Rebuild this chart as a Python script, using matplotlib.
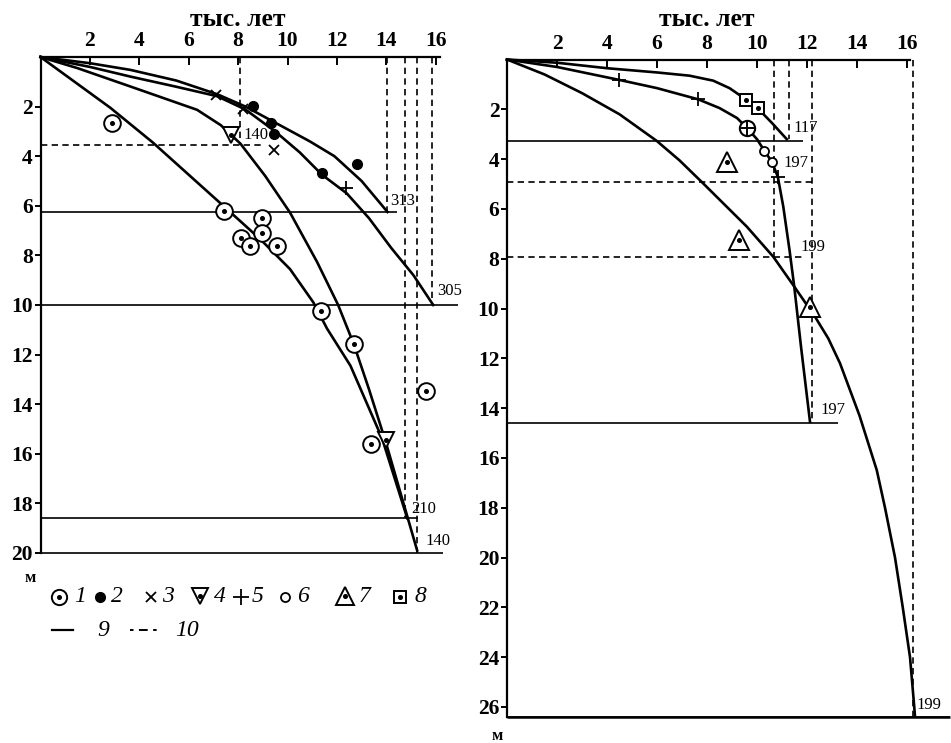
import matplotlib
matplotlib.use('Agg')
import matplotlib.pyplot as plt

plt.rcParams['font.family'] = ['Liberation Serif', 'DejaVu Serif']

W, H = 951, 743

# ---------------- data ----------------
x_ticks = [2, 4, 6, 8, 10, 12, 14, 16]
left_y_ticks = [2, 4, 6, 8, 10, 12, 14, 16, 18, 20]
right_y_ticks = [2, 4, 6, 8, 10, 12, 14, 16, 18, 20, 22, 24, 26]

# left panel curves (thousand years, depth m)
L_c313_t = [0, 2.0, 3.64, 5.5, 7.15, 8.3, 9.6, 10.9, 11.9, 13.0, 14.05]
L_c313_h = [0, 0.25, 0.52, 0.95, 1.5, 2.0, 2.7, 3.4, 4.0, 5.0, 6.25]
L_c305_t = [0, 2.0, 3.64, 5.5, 7.15, 8.3, 9.5, 10.5, 11.4, 12.4, 13.3, 14.2, 15.1, 15.9]
L_c305_h = [0, 0.4, 0.79, 1.2, 1.58, 2.12, 3.0, 3.85, 4.75, 5.5, 6.5, 7.7, 8.8, 10.0]
L_c140_t = [0, 1.5, 3.64, 6.34, 7.3, 8.1, 9.1, 10.1, 11.2, 12.05, 12.68, 13.3, 13.97, 15.25]
L_c140_h = [0, 0.45, 1.19, 2.13, 2.75, 3.5, 4.8, 6.27, 8.27, 10.0, 11.57, 13.4, 15.5, 19.9]
L_c210_t = [0, 2.83, 4.55, 7.4, 8.9, 10.1, 11.05, 11.6, 12.55, 13.83, 14.85]
L_c210_h = [0, 2.05, 3.45, 6.0, 7.35, 8.55, 9.9, 10.95, 12.45, 15.38, 18.6]

# left panel points
L_p1_t = [2.9, 7.42, 8.97, 8.97, 8.12, 8.48, 9.58, 11.36, 12.68, 15.59, 13.39]
L_p1_h = [2.65, 6.21, 6.48, 7.08, 7.28, 7.64, 7.64, 10.25, 11.57, 13.48, 15.61]
L_p2_t = [8.6, 9.35, 9.47, 11.4, 12.8]
L_p2_h = [1.97, 2.65, 3.09, 4.67, 4.3]
L_p3_t = [7.1, 8.2, 9.47]
L_p3_h = [1.53, 2.1, 3.73]
L_p4_t = [7.7, 13.97]
L_p4_h = [3.13, 15.45]
L_p5_t = [12.35]
L_p5_h = [5.27]

# left panel reference lines
L_hsolid_h = [6.25, 10.0, 18.6, 20.0]
L_hsolid_end = [14.42, 16.9, 15.3, 16.3]
L_hdash_h = [3.55]
L_hdash_end = [9.0]
L_vdash_t = [8.08, 14.02, 14.76, 15.26, 15.84]
L_vdash_end = [3.55, 6.25, 18.6, 20.0, 10.0]
L_lab_text = ['140', '313', '305', '210', '140']
L_lab_t = [8.2, 14.15, 16.04, 15.03, 15.57]
L_lab_h = [3.13, 5.82, 9.44, 18.23, 19.5]

# right panel curves
R_c117_t = [0, 2.0, 4.0, 6.0, 7.3, 8.25, 8.9, 9.55, 10.03, 10.6, 11.19]
R_c117_h = [0, 0.13, 0.35, 0.52, 0.65, 0.85, 1.15, 1.6, 1.96, 2.55, 3.2]
R_c197_t = [0, 2.0, 4.49, 6.0, 7.65, 8.5, 9.2, 9.59, 10.0, 10.29, 10.59, 10.83, 11.05, 11.3, 11.49, 11.76, 12.12]
R_c197_h = [0, 0.3, 0.82, 1.15, 1.6, 1.95, 2.35, 2.74, 3.2, 3.66, 4.1, 4.7, 5.9, 7.65, 9.12, 11.53, 14.55]
R_c199_t = [0, 1.5, 3.0, 4.5, 5.99, 6.9, 7.79, 9.59, 10.65, 11.49, 12.32, 12.85, 13.32,
            14.1, 14.79, 15.12, 15.52, 15.83, 16.12, 16.29, 16.32]
R_c199_h = [0, 0.6, 1.35, 2.2, 3.27, 4.05, 4.92, 6.71, 7.92, 9.12, 10.33, 11.2, 12.2,
            14.3, 16.49, 18.0, 20.0, 22.0, 24.0, 26.0, 26.39]

# right panel points
R_p5_t = [4.49, 7.65, 10.83]
R_p5_h = [0.82, 1.6, 4.7]
R_p6_t = [10.29, 10.59]
R_p6_h = [3.66, 4.1]
R_p56_t = [9.59]          # circle with cross (6 + 5)
R_p56_h = [2.74]
R_p7_t = [8.79, 9.28, 12.12]
R_p7_h = [4.1, 7.25, 9.93]
R_p8_t = [9.55, 10.03]
R_p8_h = [1.63, 1.96]

# right panel reference lines
R_hsolid_h = [3.27, 14.6, 26.4]
R_hsolid_end = [11.85, 13.25, 17.7]
R_hdash_h = [4.92, 7.93]
R_hdash_end = [12.2, 11.9]
R_vdash_t = [10.69, 11.29, 12.19, 16.25]
R_vdash_end = [7.93, 3.2, 14.6, 26.4]
R_lab_text = ['117', '197', '199', '197', '199']
R_lab_t = [11.44, 11.04, 11.72, 12.52, 16.39]
R_lab_h = [2.76, 4.17, 7.52, 14.08, 25.92]

legend_nums = ['1', '2', '3', '4', '5', '6', '7', '8']

# ---------------- figure ----------------
fig = plt.figure(figsize=(W / 100, H / 100), dpi=100)


def make_axes(x0, y0, sx, sy, xmax, ymax):
    left = x0 / W
    width = xmax * sx / W
    bottom_px = y0 + ymax * sy
    ax = fig.add_axes([left, 1 - bottom_px / H, width, ymax * sy / H])
    ax.set_xlim(0, xmax)
    ax.set_ylim(ymax, 0)
    ax.patch.set_alpha(0)
    return ax


DASH = (0, (3.8, 2.6))
CURVE_LW = 1.9
REF_LW = 1.2


def style_axes(ax, ymax_spine, yticks, top_end, title_off):
    for s in ['right', 'bottom']:
        ax.spines[s].set_visible(False)
    ax.spines['left'].set_bounds(0, ymax_spine)
    ax.spines['top'].set_bounds(0, top_end)
    ax.spines['left'].set_linewidth(1.6)
    ax.spines['top'].set_linewidth(1.6)
    ax.xaxis.tick_top()
    ax.set_xticks(x_ticks)
    ax.set_xticklabels([str(v) for v in x_ticks])
    ax.set_yticks(yticks)
    ax.set_yticklabels([str(v) for v in yticks])
    ax.tick_params(axis='x', direction='in', length=6, width=1.4, pad=4,
                   labelsize=15.5)
    ax.tick_params(axis='y', direction='out', length=4, width=1.4, pad=1.5,
                   labelsize=15.5)
    for lab in ax.get_xticklabels() + ax.get_yticklabels():
        lab.set_fontweight('bold')
    ax.annotate('тыс. лет', xy=(8, 1), xycoords=('data', 'axes fraction'),
                xytext=(0, title_off), textcoords='offset pixels', ha='center',
                va='center', fontsize=18.5, fontweight='bold')


def draw_refs(ax, hs_h, hs_end, hd_h, hd_end, vd_t, vd_end):
    ax.hlines(hs_h, 0, hs_end, colors='black', lw=REF_LW, clip_on=False, zorder=2)
    ax.hlines(hd_h, 0, hd_end, colors='black', lw=REF_LW, linestyles=DASH,
              clip_on=False, zorder=2)
    ax.vlines(vd_t, 0, vd_end, colors='black', lw=REF_LW, linestyles=DASH,
              clip_on=False, zorder=2)


def dotted_marker(ax, t, h, marker, ms, mew=1.4):
    ax.plot(t, h, linestyle='none', marker=marker, ms=ms, mfc='white',
            mec='black', mew=mew, zorder=5, clip_on=False)
    ax.plot(t, h, linestyle='none', marker='o', ms=2.6, color='black',
            zorder=6, clip_on=False)


# ---------- left panel ----------
axL = make_axes(40.5, 57, 24.7, 24.8, 17.2, 20.4)
style_axes(axL, 20, left_y_ticks, 16.17, 37)
draw_refs(axL, L_hsolid_h, L_hsolid_end, L_hdash_h, L_hdash_end,
          L_vdash_t, L_vdash_end)
for t, h in [(L_c313_t, L_c313_h), (L_c305_t, L_c305_h),
             (L_c140_t, L_c140_h), (L_c210_t, L_c210_h)]:
    axL.plot(t, h, color='black', lw=CURVE_LW, zorder=3, clip_on=False,
             solid_joinstyle='round')
dotted_marker(axL, L_p1_t, L_p1_h, 'o', 12)
axL.plot(L_p2_t, L_p2_h, 'o', ms=7, color='black', zorder=5)
axL.plot(L_p3_t, L_p3_h, 'x', ms=7.5, mew=1.3, color='black', zorder=5)
dotted_marker(axL, L_p4_t, L_p4_h, 'v', 11)
axL.plot(L_p5_t, L_p5_h, '+', ms=10, mew=1.3, color='black', zorder=5)
for txt, t, h in zip(L_lab_text, L_lab_t, L_lab_h):
    axL.text(t, h, txt, fontsize=12, ha='left', va='center', zorder=4,
             clip_on=False)
axL.text(-0.4, 21.0, 'м', fontsize=12, fontweight='bold', ha='center',
         va='center', clip_on=False)

# ---------- right panel ----------
axR = make_axes(507, 59.5, 25.0, 24.9, 17.7, 26.6)
style_axes(axR, 26.4, right_y_ticks, 16.12, 40)
draw_refs(axR, R_hsolid_h, R_hsolid_end, R_hdash_h, R_hdash_end,
          R_vdash_t, R_vdash_end)
for t, h in [(R_c117_t, R_c117_h), (R_c197_t, R_c197_h), (R_c199_t, R_c199_h)]:
    axR.plot(t, h, color='black', lw=CURVE_LW, zorder=3, clip_on=False,
             solid_joinstyle='round')
axR.hlines([R_hsolid_h[-1]], 0, [R_hsolid_end[-1]], colors='black', lw=1.8,
           clip_on=False, zorder=2)
axR.plot(R_p5_t, R_p5_h, '+', ms=10, mew=1.3, color='black', zorder=5)
axR.plot(R_p6_t, R_p6_h, 'o', ms=6.5, mfc='white', mec='black', mew=1.3,
         zorder=5)
axR.plot(R_p56_t, R_p56_h, 'o', ms=11, mfc='white', mec='black', mew=1.5,
         zorder=5)
axR.plot(R_p56_t, R_p56_h, '+', ms=11, mew=1.4, color='black', zorder=6)
dotted_marker(axR, R_p7_t, R_p7_h, '^', 14)
dotted_marker(axR, R_p8_t, R_p8_h, 's', 8.5)
for txt, t, h in zip(R_lab_text, R_lab_t, R_lab_h):
    axR.text(t, h, txt, fontsize=12, ha='left', va='center', zorder=4,
             clip_on=False)
axR.text(-0.4, 27.15, 'м', fontsize=12, fontweight='bold', ha='center',
         va='center', clip_on=False)

# ---------- legend (pixel overlay) ----------
lg = fig.add_axes([0, 0, 1, 1])
lg.set_xlim(0, W)
lg.set_ylim(H, 0)
lg.axis('off')
row1 = 597
sym_x = [59, 100, 151, 200, 241, 285, 345, 400]
num_x = [80, 117, 168, 220, 258, 303, 365, 420]
dotted_marker(lg, [sym_x[0]], [row1], 'o', 11)
lg.plot([sym_x[1]], [row1], 'o', ms=7, color='black')
lg.plot([sym_x[2]], [row1], 'x', ms=7, mew=1.3, color='black')
dotted_marker(lg, [sym_x[3]], [row1 - 1], 'v', 12)
lg.plot([sym_x[4]], [row1], '+', ms=11, mew=1.3, color='black')
lg.plot([sym_x[5]], [row1], 'o', ms=6.5, mfc='white', mec='black', mew=1.3)
dotted_marker(lg, [sym_x[6]], [row1 - 1], '^', 13)
dotted_marker(lg, [sym_x[7]], [row1], 's', 8.5)
for n, x in zip(legend_nums, num_x):
    lg.text(x, row1, n, fontsize=17, fontstyle='italic', ha='center',
            va='center')
row2 = 630
lg.plot([52, 73], [row2, row2], color='black', lw=1.6)
lg.text(103, row2, '9', fontsize=17, fontstyle='italic', ha='center', va='center')
lg.plot([130, 160], [row2, row2], color='black', lw=1.4, linestyle=(0, (1.8, 2.8, 4.5, 2.8)))
lg.text(187, row2, '10', fontsize=17, fontstyle='italic', ha='center', va='center')

fig.savefig('out.png', dpi=100)
